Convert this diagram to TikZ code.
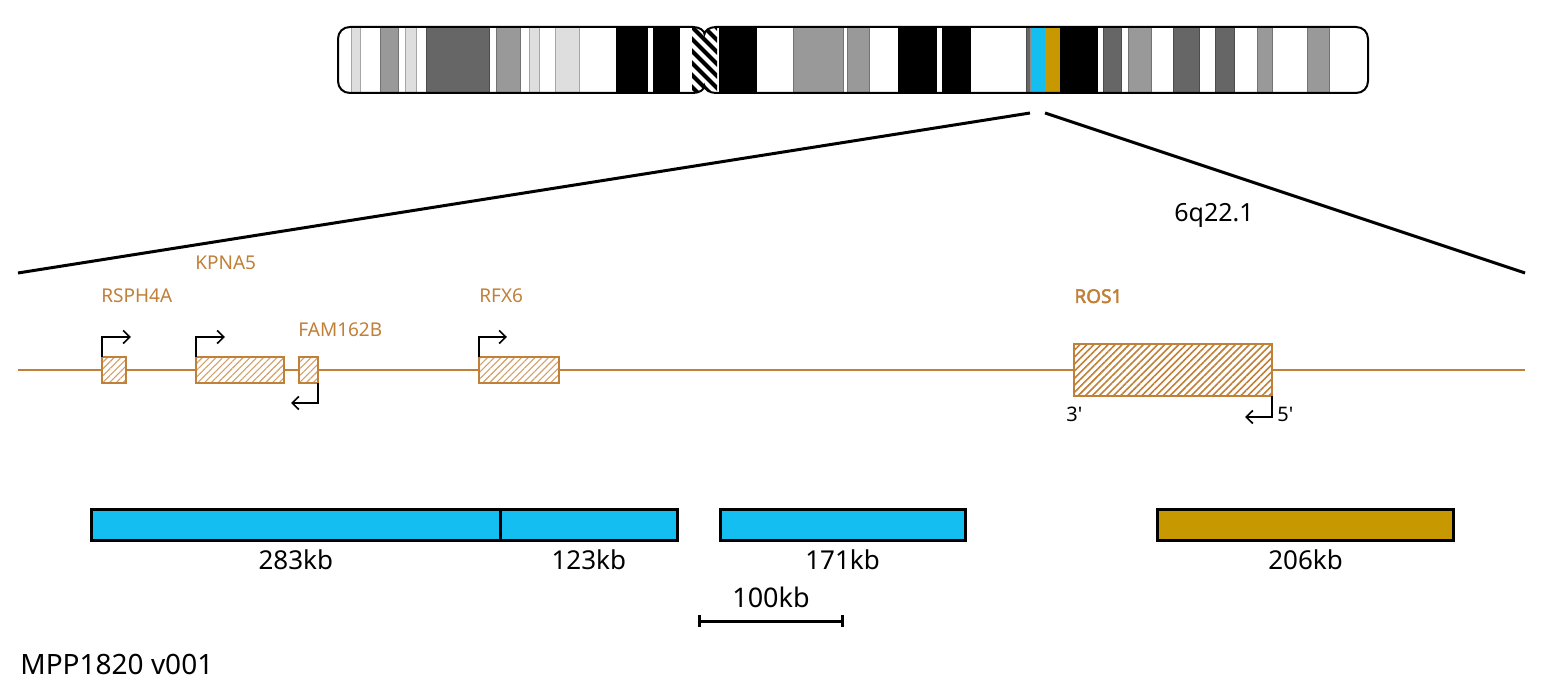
\documentclass[tikz,border=0pt]{standalone}
\usepackage{fontspec}
\setmainfont{Noto Sans}[AutoFakeBold=2.5]
\usetikzlibrary{arrows.meta,patterns.meta}
\definecolor{genebrown}{RGB}{192,128,56}
\definecolor{segblue}{RGB}{20,190,240}
\definecolor{seggold}{RGB}{200,152,0}
\tikzset{
  bandL/.style={fill=black!13,draw=black!35,line width=0.4pt},
  bandM/.style={fill=black!40,draw=black!55,line width=0.4pt},
  bandD/.style={fill=black!60,draw=black!70,line width=0.4pt},
  bandK/.style={fill=black},
  bandB/.style={fill=segblue,draw=black!45,line width=0.4pt},
  bandG/.style={fill=seggold},
  genebox/.style={draw=genebrown,line width=1pt,inner sep=0pt,outer sep=0pt,
    minimum height=13pt,preaction={fill=white},
    pattern={Lines[angle=45,distance=2.4pt,line width=0.55pt]},pattern color=genebrown!75},
  genelabel/.style={text=genebrown,font=\fontsize{9.5}{11}\selectfont,inner sep=0pt,anchor=base west},
  tss/.style={-{Straight Barb[length=3.3pt,width=6.5pt]},line width=0.85pt},
  segbar/.style={draw=black,line width=1.5pt,inner sep=0pt,outer sep=0pt,minimum height=15.5pt},
  kblabel/.style={font=\fontsize{13}{15}\selectfont,inner sep=0pt,anchor=base},
  zoomline/.style={line width=1.5pt}
}
\begin{document}
\begin{tikzpicture}[x=0.5pt,y=-0.5pt]
\useasboundingbox (0,0) rectangle (1543,689);
\def\chrompath{(350,27) -- (693,27) .. controls (700,27) and (704.5,31) .. (704.5,34)
  .. controls (704.5,31) and (709,27) .. (716,27) -- (1356,27)
  .. controls (1363,27) and (1368,32) .. (1368,39) -- (1368,81)
  .. controls (1368,88) and (1363,93) .. (1356,93) -- (716,93)
  .. controls (709,93) and (704.5,89) .. (704.5,86)
  .. controls (704.5,89) and (700,93) .. (693,93) -- (350,93)
  .. controls (343,93) and (338,88) .. (338,81) -- (338,39)
  .. controls (338,32) and (343,27) .. (350,27) -- cycle}
% chromosome 6
\begin{scope}
  \clip \chrompath;
  \fill[white] (330,20) rectangle (1380,100);
  \foreach \a/\b/\s in {351.7/360/bandL,380.7/398.3/bandM,405/416.7/bandL,426.7/489/bandD,
      496.7/520.7/bandM,529/539/bandL,555.7/579/bandL,616/648.3/bandK,652.7/680/bandK,
      719/756.5/bandK,793.5/843.5/bandM,847.8/869.6/bandM,897.8/937/bandK,942.2/970.7/bandK,
      1026/1030/bandD,1030/1045.3/bandB,1045.3/1060/bandG,1060/1098.3/bandK,1103.3/1121.7/bandD,
      1128.3/1151.7/bandM,1173.3/1199/bandD,1215/1234/bandD,1257.3/1272.3/bandM,
      1307.3/1329.3/bandM}{%
    \path[\s] (\a,27) rectangle (\b,93);
  }
  \begin{scope}
    \clip (692,20) rectangle (717,100);
    \foreach \s in {0,...,10}
      \draw[line width=2pt] (620+\s*12,27) -- ++(66,66);
  \end{scope}
\end{scope}
\draw[line width=1pt] \chrompath;

\coordinate (bandTipL) at (1030,113);
\coordinate (bandTipR) at (1045,113);
\coordinate (viewL) at (18,273);
\coordinate (viewR) at (1525,273);
\draw[zoomline] (bandTipL) -- (viewL);
\draw[zoomline] (bandTipR) -- (viewR);
\node[kblabel,font=\fontsize{12.5}{15}\selectfont] (bandname) at (1214,222) {6q22.1};

% genes
\coordinate (trackL) at (18,370);
\coordinate (trackR) at (1525,370);
\draw[genebrown,line width=0.75pt] (trackL) -- (trackR);
\node[genebox,minimum width=12pt] (rsph) at (114,370) {};
\node[genebox,minimum width=44pt] (kpna) at (240,370) {};
\node[genebox,minimum width=9.5pt] (fam) at (308.5,370) {};
\node[genebox,minimum width=40pt] (rfx) at (519,370) {};
\node[genebox,minimum width=99pt,minimum height=26pt,
  pattern={Lines[angle=45,distance=2.5pt,line width=0.8pt]},pattern color=genebrown] (ros) at (1173,370) {};

\node[genelabel] (rsphname) at (101,303) {RSPH4A};
\node[genelabel] (kpnaname) at (195,270) {KPNA5};
\node[genelabel] (famname) at (298,337) {FAM162B};
\node[genelabel] (rfxname) at (479,303) {RFX6};
\node[genelabel,font=\fontsize{9.5}{11}\selectfont\bfseries] (rosname) at (1074,303) {ROS1};

\coordinate (rsphTip) at (131,337);
\coordinate (kpnaTip) at (225,337);
\coordinate (rfxTip) at (507,337);
\coordinate (famTip) at (291,403);
\coordinate (rosTip) at (1245,417);
\draw[tss] (rsph.north west) |- (rsphTip);
\draw[tss] (kpna.north west) |- (kpnaTip);
\draw[tss] (rfx.north west) |- (rfxTip);
\draw[tss] (fam.south east) |- (famTip);
\draw[tss] (ros.south east) |- (rosTip);
\node[inner sep=0pt,anchor=base west,font=\fontsize{10}{12}\selectfont] (ros3) at (1066,422) {3\textquotesingle};
\node[inner sep=0pt,anchor=base west,font=\fontsize{10}{12}\selectfont] (ros5) at (1277,422) {5\textquotesingle};

% segments
\node[segbar,fill=segblue,minimum width=204.25pt] (seg1) at (295.75,525) {};
\node[segbar,fill=segblue,minimum width=88.75pt] (seg2) at (588.75,525) {};
\node[segbar,fill=segblue,minimum width=122.5pt] (seg3) at (842.5,525) {};
\node[segbar,fill=seggold,minimum width=148pt] (seg4) at (1305.5,525) {};
\path (seg1.south) ++(0,29) node[kblabel] (seg1kb) {283kb};
\path (seg2.south) ++(0,29) node[kblabel] (seg2kb) {123kb};
\path (seg3.south) ++(0,29) node[kblabel] (seg3kb) {171kb};
\path (seg4.south) ++(0,29) node[kblabel] (seg4kb) {206kb};

\coordinate (scaleL) at (698,621);
\coordinate (scaleR) at (844,621);
\draw[line width=1.5pt,{Bar[width=6pt]}-{Bar[width=6pt]}] (scaleL) -- (scaleR);
\node[kblabel,font=\fontsize{13.5}{16}\selectfont] (scalename) at (771,608) {100kb};

\node[inner sep=0pt,anchor=base west,font=\fontsize{14}{17}\selectfont] (runid) at (20,674) {MPP1820 v001};
\end{tikzpicture}
\end{document}
